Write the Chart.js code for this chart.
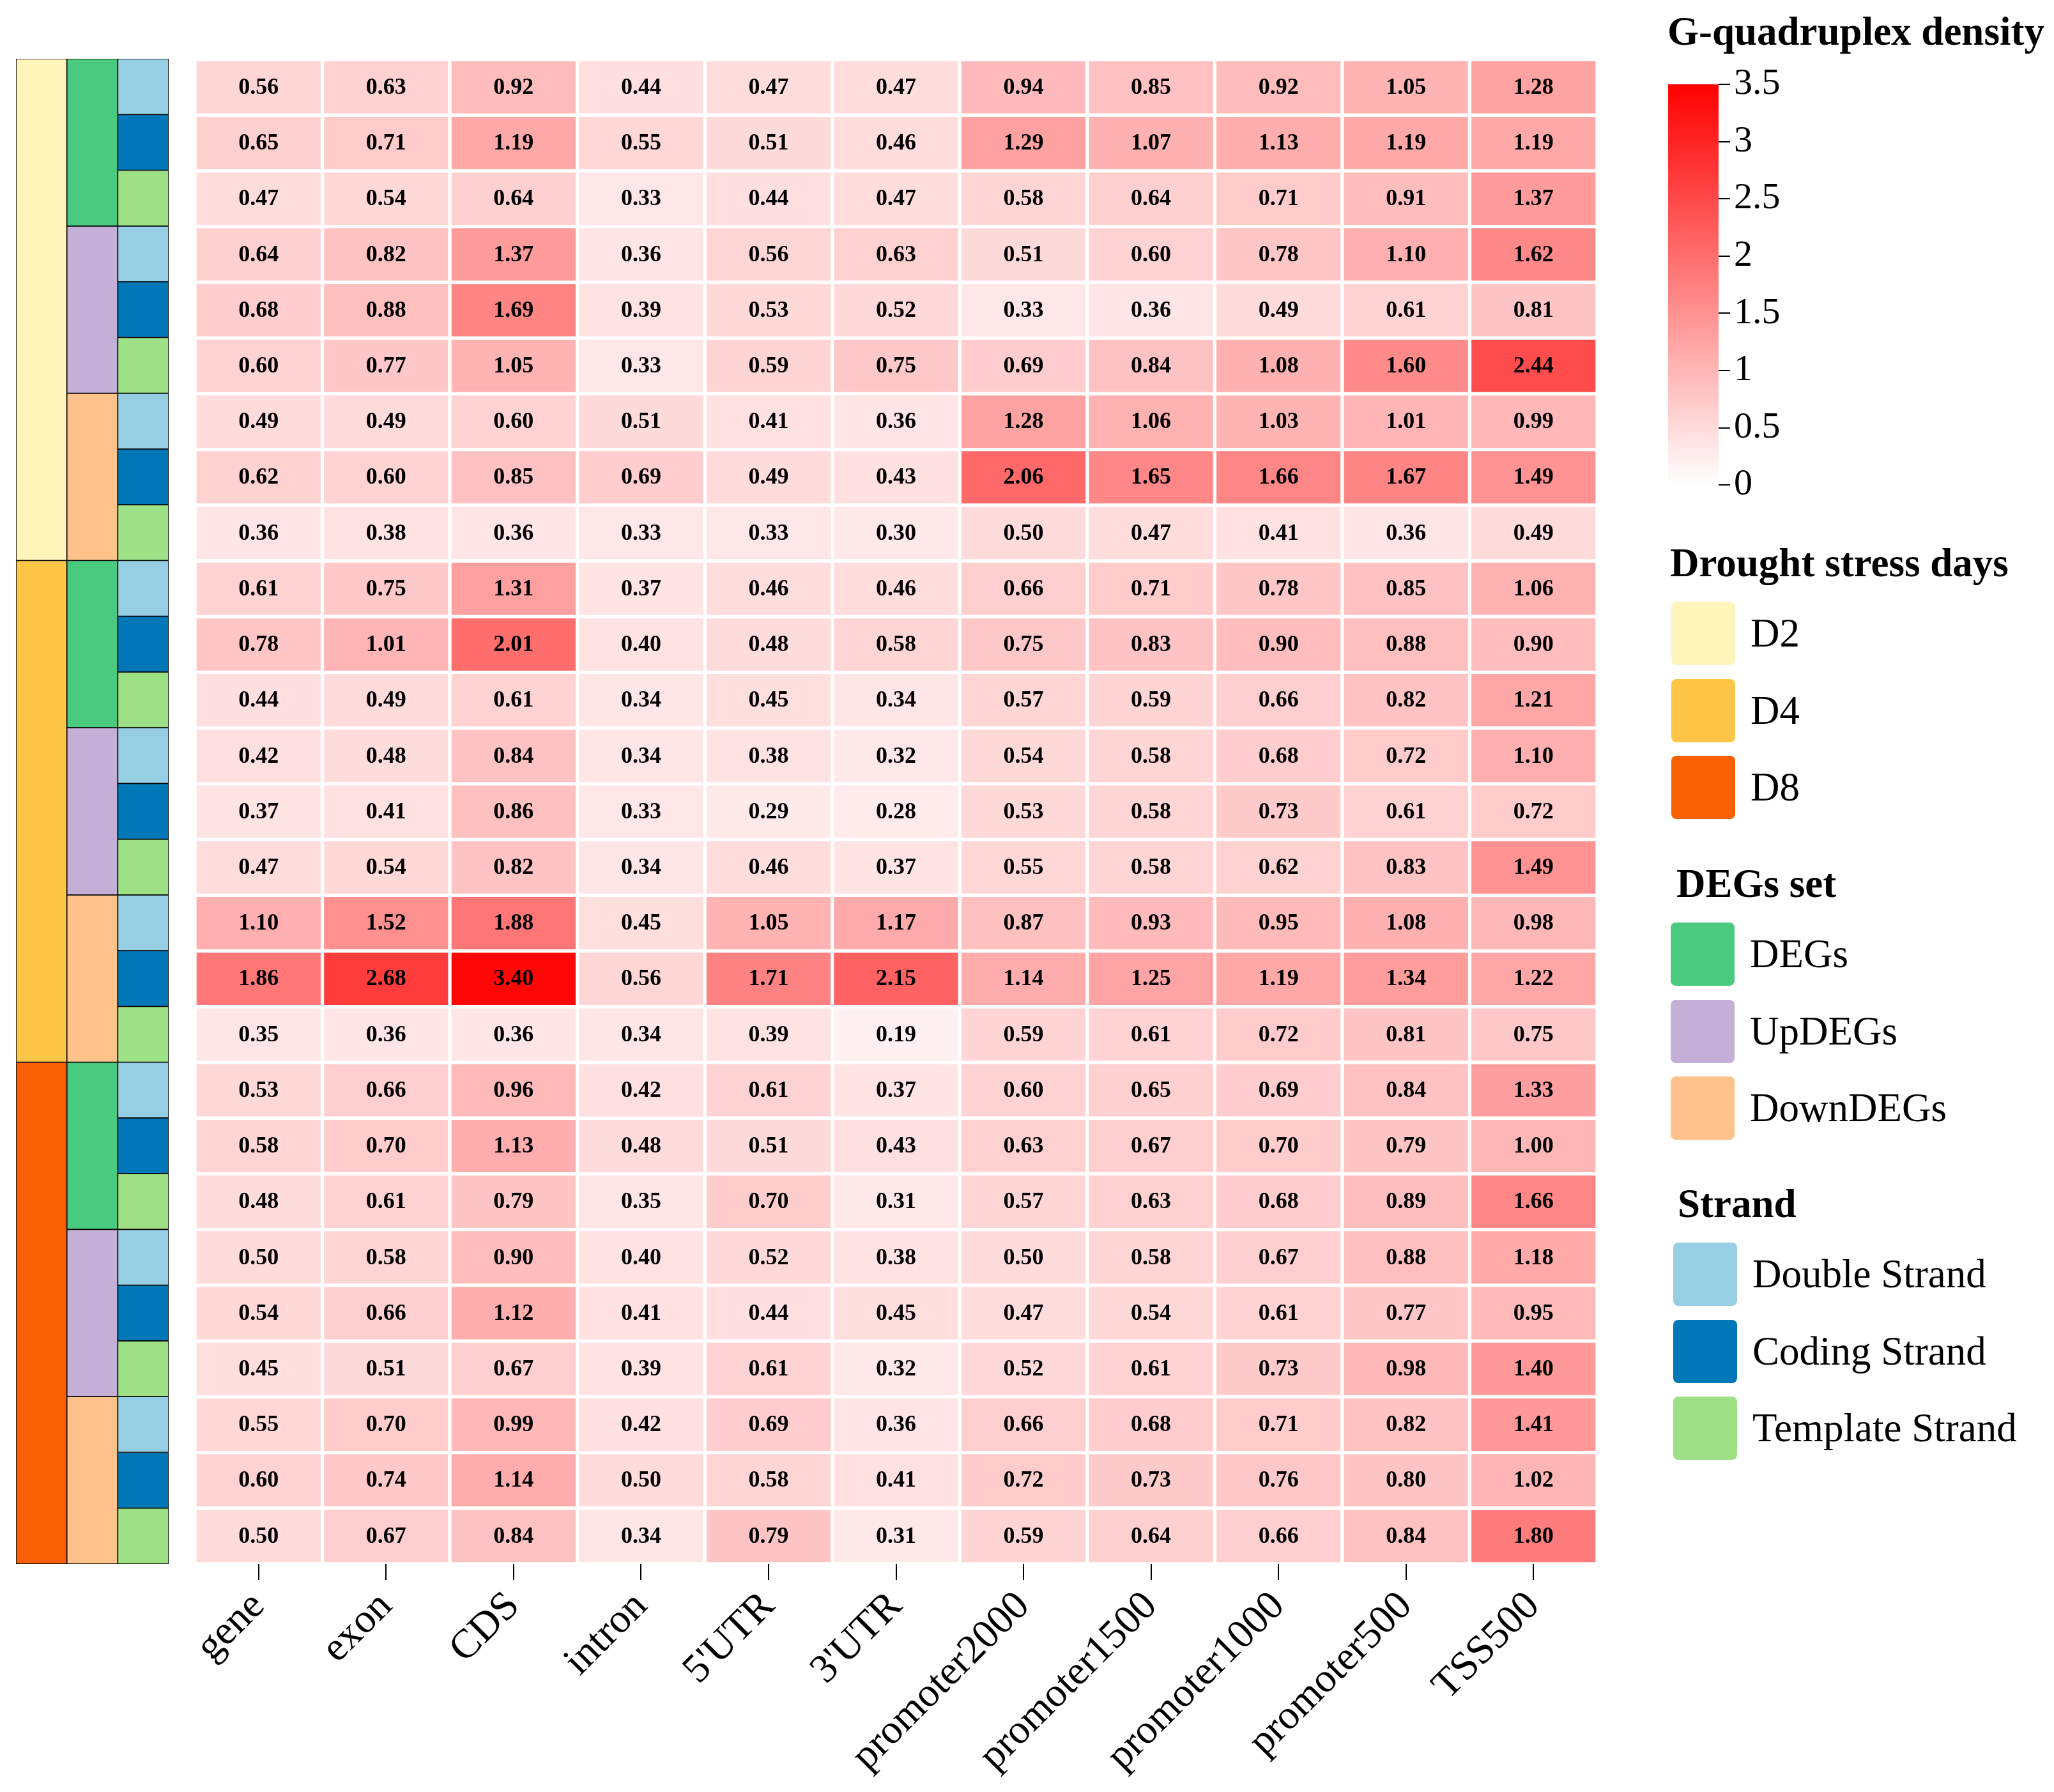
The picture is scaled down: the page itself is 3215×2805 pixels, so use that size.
<!DOCTYPE html>
<html>
<head>
<meta charset="utf-8">
<title>G-quadruplex density heatmap</title>
<script src="https://cdn.jsdelivr.net/npm/chart.js@4.4.1/dist/chart.umd.min.js"></script>
<style>
  html, body { margin: 0; padding: 0; background: #fff; }
  body {
    width: 3215px; height: 2805px; position: relative; overflow: hidden;
    font-family: "Liberation Serif", "Times New Roman", serif; color: #000;
  }
  canvas { position: absolute; }
  .legend-title {
    position: absolute; font-weight: bold; font-size: 63px;
    line-height: 63px; white-space: nowrap;
  }
  .legend-item { position: absolute; display: flex; align-items: center; height: 99px; }
  .swatch { width: 100px; height: 99px; border-radius: 8px; }
  .legend-label { font-size: 63px; line-height: 63px; margin-left: 24px; white-space: nowrap; }
</style>
</head>
<body>
<canvas id="heatmap" width="2560" height="2805" style="left:0;top:0"></canvas>
<canvas id="annot" width="239" height="2356" style="left:25px;top:92px"></canvas>
<canvas id="colorbar" width="279" height="800" style="left:2611px;top:0"></canvas>
<div id="legend"></div>

<script>
var regions = ["gene", "exon", "CDS", "intron", "5'UTR", "3'UTR",
  "promoter2000", "promoter1500", "promoter1000", "promoter500", "TSS500"];

var days = ["D2", "D4", "D8"];
var dayColors = ["#FFF5BB", "#FFC547", "#F86003"];
var degSets = ["DEGs", "UpDEGs", "DownDEGs"];
var degColors = ["#4ACA7E", "#C4AFD6", "#FEC28A"];
var strands = ["Double Strand", "Coding Strand", "Template Strand"];
var strandColors = ["#96CEE4", "#0078B7", "#9DE085"];

var densityMax = 3.5;

// rows: DEGs (double, coding, template), UpDEGs (...), DownDEGs (...)
var d2Density = [
  [0.56, 0.63, 0.92, 0.44, 0.47, 0.47, 0.94, 0.85, 0.92, 1.05, 1.28],
  [0.65, 0.71, 1.19, 0.55, 0.51, 0.46, 1.29, 1.07, 1.13, 1.19, 1.19],
  [0.47, 0.54, 0.64, 0.33, 0.44, 0.47, 0.58, 0.64, 0.71, 0.91, 1.37],
  [0.64, 0.82, 1.37, 0.36, 0.56, 0.63, 0.51, 0.60, 0.78, 1.10, 1.62],
  [0.68, 0.88, 1.69, 0.39, 0.53, 0.52, 0.33, 0.36, 0.49, 0.61, 0.81],
  [0.60, 0.77, 1.05, 0.33, 0.59, 0.75, 0.69, 0.84, 1.08, 1.60, 2.44],
  [0.49, 0.49, 0.60, 0.51, 0.41, 0.36, 1.28, 1.06, 1.03, 1.01, 0.99],
  [0.62, 0.60, 0.85, 0.69, 0.49, 0.43, 2.06, 1.65, 1.66, 1.67, 1.49],
  [0.36, 0.38, 0.36, 0.33, 0.33, 0.30, 0.50, 0.47, 0.41, 0.36, 0.49]
];
var d4Density = [
  [0.61, 0.75, 1.31, 0.37, 0.46, 0.46, 0.66, 0.71, 0.78, 0.85, 1.06],
  [0.78, 1.01, 2.01, 0.40, 0.48, 0.58, 0.75, 0.83, 0.90, 0.88, 0.90],
  [0.44, 0.49, 0.61, 0.34, 0.45, 0.34, 0.57, 0.59, 0.66, 0.82, 1.21],
  [0.42, 0.48, 0.84, 0.34, 0.38, 0.32, 0.54, 0.58, 0.68, 0.72, 1.10],
  [0.37, 0.41, 0.86, 0.33, 0.29, 0.28, 0.53, 0.58, 0.73, 0.61, 0.72],
  [0.47, 0.54, 0.82, 0.34, 0.46, 0.37, 0.55, 0.58, 0.62, 0.83, 1.49],
  [1.10, 1.52, 1.88, 0.45, 1.05, 1.17, 0.87, 0.93, 0.95, 1.08, 0.98],
  [1.86, 2.68, 3.40, 0.56, 1.71, 2.15, 1.14, 1.25, 1.19, 1.34, 1.22],
  [0.35, 0.36, 0.36, 0.34, 0.39, 0.19, 0.59, 0.61, 0.72, 0.81, 0.75]
];
var d8Density = [
  [0.53, 0.66, 0.96, 0.42, 0.61, 0.37, 0.60, 0.65, 0.69, 0.84, 1.33],
  [0.58, 0.70, 1.13, 0.48, 0.51, 0.43, 0.63, 0.67, 0.70, 0.79, 1.00],
  [0.48, 0.61, 0.79, 0.35, 0.70, 0.31, 0.57, 0.63, 0.68, 0.89, 1.66],
  [0.50, 0.58, 0.90, 0.40, 0.52, 0.38, 0.50, 0.58, 0.67, 0.88, 1.18],
  [0.54, 0.66, 1.12, 0.41, 0.44, 0.45, 0.47, 0.54, 0.61, 0.77, 0.95],
  [0.45, 0.51, 0.67, 0.39, 0.61, 0.32, 0.52, 0.61, 0.73, 0.98, 1.40],
  [0.55, 0.70, 0.99, 0.42, 0.69, 0.36, 0.66, 0.68, 0.71, 0.82, 1.41],
  [0.60, 0.74, 1.14, 0.50, 0.58, 0.41, 0.72, 0.73, 0.76, 0.80, 1.02],
  [0.50, 0.67, 0.84, 0.34, 0.79, 0.31, 0.59, 0.64, 0.66, 0.84, 1.80]
];

var serif = "'Liberation Serif', 'Times New Roman', serif";
var allRows = d2Density.concat(d4Density, d8Density);
var nRows = allRows.length;

// white -> red, same ramp as the colour bar
function densityColor(v) {
  var t = Math.max(0, Math.min(1, v / densityMax));
  var gb = Math.round(255 * (1 - t));
  return "rgb(255," + gb + "," + gb + ")";
}

// write the number in the middle of each cell
var cellLabels = {
  id: "cellLabels",
  afterDatasetsDraw: function (chart) {
    var ctx = chart.ctx;
    ctx.save();
    ctx.font = "bold 36px " + serif;
    ctx.fillStyle = "#000";
    ctx.textAlign = "center";
    ctx.textBaseline = "middle";
    chart.data.datasets.forEach(function (ds, i) {
      chart.getDatasetMeta(i).data.forEach(function (bar, j) {
        var c = bar.getCenterPoint();
        ctx.fillText(ds.values[j].toFixed(2), c.x, c.y + 1);
      });
    });
    ctx.restore();
  }
};

// heatmap: one floating-bar dataset per row
var heatDatasets = allRows.map(function (vals, r) {
  return {
    label: days[Math.floor(r / 9)] + " " + degSets[Math.floor(r / 3) % 3] + " " + strands[r % 3],
    values: vals,
    data: vals.map(function () { return [r, r + 1]; }),
    backgroundColor: vals.map(densityColor),
    borderColor: "#fff",
    borderWidth: 3,
    borderSkipped: false,
    grouped: false,
    barPercentage: 1,
    categoryPercentage: 1
  };
});

new Chart(document.getElementById("heatmap"), {
  type: "bar",
  data: { labels: regions, datasets: heatDatasets },
  plugins: [cellLabels],
  options: {
    responsive: false,
    animation: false,
    layout: { padding: { left: 305, right: 60, top: 93, bottom: 17 } },
    plugins: { legend: { display: false }, tooltip: { enabled: false } },
    scales: {
      y: { type: "linear", min: 0, max: nRows, reverse: true, display: false },
      x: {
        afterFit: function (scale) { scale.height = 340; },
        border: { display: false },
        grid: {
          offset: false, drawOnChartArea: false, drawTicks: true,
          tickLength: 25, color: "#000", lineWidth: 2
        },
        ticks: {
          autoSkip: false, maxRotation: 45, minRotation: 45, padding: 4,
          color: "#000", font: { family: serif, size: 64 }
        }
      }
    }
  }
});

// row annotations: day blocks of 9, DEG set blocks of 3, strand per row
var dayBlocks = days.map(function (d, k) { return { x: "day", y: [k * 9, k * 9 + 9] }; });
var setBlocks = [], setBlockColors = [];
for (var k = 0; k < nRows / 3; k++) {
  setBlocks.push({ x: "set", y: [k * 3, k * 3 + 3] });
  setBlockColors.push(degColors[k % 3]);
}
var strandBlocks = [], strandBlockColors = [];
for (var r = 0; r < nRows; r++) {
  strandBlocks.push({ x: "strand", y: [r, r + 1] });
  strandBlockColors.push(strandColors[r % 3]);
}
var annotStyle = {
  borderColor: "#000", borderWidth: 1.2, borderSkipped: false,
  grouped: false, barPercentage: 1, categoryPercentage: 1
};

new Chart(document.getElementById("annot"), {
  type: "bar",
  data: {
    labels: ["day", "set", "strand"],
    datasets: [
      Object.assign({ label: "Drought stress days", data: dayBlocks, backgroundColor: dayColors }, annotStyle),
      Object.assign({ label: "DEGs set", data: setBlocks, backgroundColor: setBlockColors }, annotStyle),
      Object.assign({ label: "Strand", data: strandBlocks, backgroundColor: strandBlockColors }, annotStyle)
    ]
  },
  options: {
    responsive: false,
    animation: false,
    plugins: { legend: { display: false }, tooltip: { enabled: false } },
    scales: {
      x: { display: false },
      y: { type: "linear", min: 0, max: nRows, reverse: true, display: false }
    }
  }
});

// colour bar
new Chart(document.getElementById("colorbar"), {
  type: "bar",
  data: {
    labels: ["density"],
    datasets: [{
      data: [[0, densityMax]],
      backgroundColor: function (context) {
        var area = context.chart.chartArea;
        if (!area) return "#ff0000";
        var g = context.chart.ctx.createLinearGradient(0, area.bottom, 0, area.top);
        g.addColorStop(0, "#ffffff");
        g.addColorStop(1, "#ff0000");
        return g;
      },
      borderWidth: 0,
      barPercentage: 1,
      categoryPercentage: 1
    }]
  },
  options: {
    responsive: false,
    animation: false,
    layout: { padding: { top: 132, bottom: 34 } },
    plugins: { legend: { display: false }, tooltip: { enabled: false } },
    scales: {
      x: { display: false },
      y: {
        position: "right",
        min: 0, max: densityMax,
        afterFit: function (scale) { scale.width = 200; },
        border: { display: false },
        grid: { drawOnChartArea: false, drawTicks: true, tickLength: 18, color: "#000", lineWidth: 2 },
        ticks: {
          stepSize: 0.5, padding: 6, color: "#000", font: { family: serif, size: 58 },
          callback: function (value) { return String(value); }
        }
      }
    }
  }
});

// legends
var legend = document.getElementById("legend");
function addTitle(text, left, top) {
  var el = document.createElement("div");
  el.className = "legend-title";
  el.style.left = left + "px";
  el.style.top = top + "px";
  el.textContent = text;
  legend.appendChild(el);
}
function addGroup(title, titleLeft, names, colors, left, top) {
  addTitle(title, titleLeft, top - 92);
  names.forEach(function (name, i) {
    var item = document.createElement("div");
    item.className = "legend-item";
    item.style.left = left + "px";
    item.style.top = (top + i * 120.5) + "px";
    var sw = document.createElement("div");
    sw.className = "swatch";
    sw.style.background = colors[i];
    var lab = document.createElement("div");
    lab.className = "legend-label";
    lab.textContent = name;
    item.appendChild(sw);
    item.appendChild(lab);
    legend.appendChild(item);
  });
}
addTitle("G-quadruplex density", 2610, 18);
addGroup("Drought stress days", 2614, days, dayColors, 2616, 942);
addGroup("DEGs set", 2624, degSets, degColors, 2615, 1444);
addGroup("Strand", 2626, strands, strandColors, 2619, 1945);
</script>
</body>
</html>
